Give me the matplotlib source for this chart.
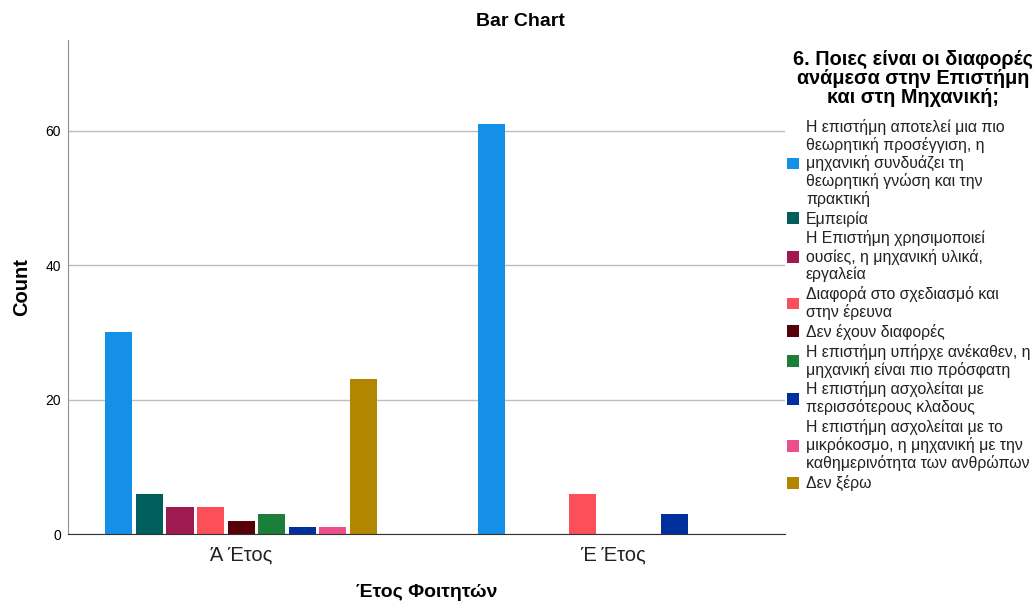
import numpy as np
import matplotlib
matplotlib.use("Agg")
import matplotlib.pyplot as plt
from matplotlib.patches import Patch

plt.rcParams['font.family'] = ['Liberation Sans', 'DejaVu Sans']

years = ["Ά Έτος", "Έ Έτος"]
answers = [
    "Η επιστήμη αποτελεί μια πιο\nθεωρητική προσέγγιση, η\nμηχανική συνδυάζει τη\nθεωρητική γνώση και την\nπρακτική",
    "Εμπειρία",
    "Η Επιστήμη χρησιμοποιεί\nουσίες, η μηχανική υλικά,\nεργαλεία",
    "Διαφορά στο σχεδιασμό και\nστην έρευνα",
    "Δεν έχουν διαφορές",
    "Η επιστήμη υπήρχε ανέκαθεν, η\nμηχανική είναι πιο πρόσφατη",
    "Η επιστήμη ασχολείται με\nπερισσότερους κλαδους",
    "Η επιστήμη ασχολείται με το\nμικρόκοσμο, η μηχανική με την\nκαθημερινότητα των ανθρώπων",
    "Δεν ξέρω",
]
counts_year_a = [30, 6, 4, 4, 2, 3, 1, 1, 23]
counts_year_e = [61, 0, 0, 6, 0, 0, 3, 0, 0]
colors = ["#1490e8", "#005e5c", "#9e1a50", "#fd4f5a", "#560008",
          "#1b7f3a", "#002f9e", "#ec4f8c", "#b38600"]

W, H = 1036, 603
fig = plt.figure(figsize=(W / 100, H / 100), dpi=100)
ax = fig.add_axes([68 / W, 1 - 534 / H, (785 - 68) / W, (534 - 40) / H])

n = len(answers)
slot = 0.082
width = 0.0726
x = np.arange(len(years))
for i in range(n):
    vals = [counts_year_a[i], counts_year_e[i]]
    offs = x + (i - (n - 1) / 2) * slot
    for xo, v in zip(offs, vals):
        if v > 0:
            ax.bar(xo, v, width=width, color=colors[i], edgecolor="none", zorder=3)

ax.set_xlim(-0.465, 1.462)
ax.set_ylim(0, 73.5)
ax.set_yticks([0, 20, 40, 60])
ax.set_xticks(x)
ax.set_xticklabels(years, fontsize=14.5, color="#222222")
ax.tick_params(axis="x", length=0, pad=8)
ax.tick_params(axis="y", length=0, labelsize=10, pad=5)
ax.yaxis.grid(True, color="#bdbdbd", linewidth=1, zorder=0)
ax.set_axisbelow(True)
for s in ["top", "right"]:
    ax.spines[s].set_visible(False)
ax.spines["left"].set_color("#909090")
ax.spines["bottom"].set_color("#333333")
ax.spines["bottom"].set_zorder(4)

ax.set_ylabel("Count", fontsize=14.5, fontweight="bold", labelpad=10)
ax.set_xlabel("Έτος Φοιτητών", fontsize=14, fontweight="bold", labelpad=14)
fig.text(520 / W, 1 - 22 / H, "Bar Chart", ha="center", va="center",
         fontsize=14, fontweight="bold")

# Legend heading, drawn on its own so it can sit centred above the entries
fig.text(913 / W, 1 - 50 / H,
         "6. Ποιες είναι οι διαφορές\nανάμεσα στην Επιστήμη\nκαι στη Μηχανική;",
         ha="center", va="top", multialignment="center",
         fontsize=14.3, fontweight="bold", linespacing=1.0)

handles = [Patch(facecolor=c, edgecolor="none") for c in colors]
leg = fig.legend(handles, answers, loc="upper left",
                 bbox_to_anchor=(787 / W, 1 - 119 / H),
                 frameon=False, fontsize=11.4, handlelength=0.75, handleheight=0.75,
                 handletextpad=0.45, labelspacing=0.24, borderaxespad=0,
                 borderpad=0)
for t in leg.get_texts():
    t.set_linespacing(1.16)
    t.set_color("#222222")

fig.savefig("out.png", dpi=100)
